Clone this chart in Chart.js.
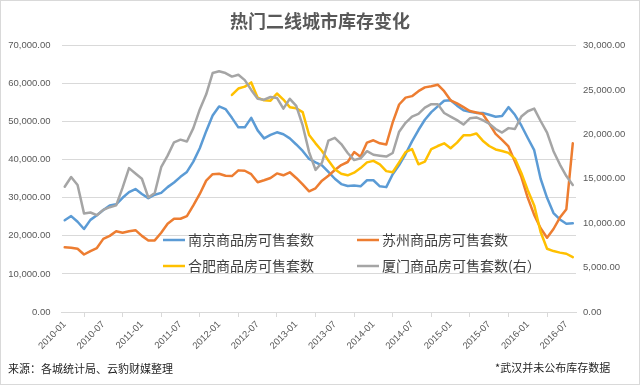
<!DOCTYPE html>
<html>
<head>
<meta charset="utf-8">
<script src="https://cdn.jsdelivr.net/npm/chart.js@4"></script>
<style>
  body { margin: 0; background: #fff; }
  #wrap { position: relative; width: 640px; height: 385px; }
  #chart { outline: 1px solid #d9d9d9; outline-offset: -1px; }
  .note { position: absolute; font: 11px "Noto Sans CJK SC", sans-serif; color: #1f1f1f; white-space: nowrap; }
</style>
</head>
<body>
<div id="wrap">
  <canvas id="chart" width="640" height="385"></canvas>
  <div class="note" style="left:8px; top:360px;">来源：各城统计局、云豹财媒整理</div>
  <div class="note" style="left:495px; top:359px;">*武汉并未公布库存数据</div>
</div>
<script>
// ---------- Data ----------
const months = [
  "2010-01","2010-02","2010-03","2010-04","2010-05","2010-06","2010-07","2010-08","2010-09","2010-10","2010-11","2010-12",
  "2011-01","2011-02","2011-03","2011-04","2011-05","2011-06","2011-07","2011-08","2011-09","2011-10","2011-11","2011-12",
  "2012-01","2012-02","2012-03","2012-04","2012-05","2012-06","2012-07","2012-08","2012-09","2012-10","2012-11","2012-12",
  "2013-01","2013-02","2013-03","2013-04","2013-05","2013-06","2013-07","2013-08","2013-09","2013-10","2013-11","2013-12",
  "2014-01","2014-02","2014-03","2014-04","2014-05","2014-06","2014-07","2014-08","2014-09","2014-10","2014-11","2014-12",
  "2015-01","2015-02","2015-03","2015-04","2015-05","2015-06","2015-07","2015-08","2015-09","2015-10","2015-11","2015-12",
  "2016-01","2016-02","2016-03","2016-04","2016-05","2016-06","2016-07","2016-08"
];

// 南京 (left axis)
const nanjing = [
  24100, 25200, 23700, 21800, 24200, 25400, 26800, 28000, 28300, 30000,
  31500, 32300, 31000, 29900, 30800, 31300, 32800, 34000, 35500, 36800,
  39500, 43000, 47500, 51600, 54000, 53300, 51000, 48500, 48500, 51000,
  47700, 45600, 46500, 47200, 46700, 45600, 44000, 42300, 40200, 39300,
  38500, 36800, 35000, 33600, 33100, 33200, 33000, 34600, 34600, 33000,
  32800, 36200, 38600, 41500, 44800, 47800, 50500, 52500, 54000, 55500,
  55600, 54200, 53000, 52600, 52300, 52300, 51800, 51300, 51500, 53800,
  51800, 49000, 45700, 42500, 35000, 30000, 26000, 24300, 23200, 23300
];

// 苏州 (left axis)
const suzhou = [
  17000, 16900, 16600, 15100, 16000, 16800, 19200, 20000, 21200, 20800,
  21200, 21500, 20000, 18800, 18800, 20800, 23200, 24500, 24500, 25200,
  28000, 31000, 34500, 36200, 36300, 35800, 35700, 37200, 37100, 36200,
  34100, 34600, 35200, 36400, 35900, 36700, 35200, 33500, 31700, 32500,
  34500, 35800, 37300, 38600, 39400, 42000, 40800, 44500, 45100, 44300,
  44000, 49800, 54500, 56300, 56700, 58000, 59000, 59300, 59700, 58000,
  55600, 54800, 53800, 52800, 52400, 52000, 49500, 46800, 45200, 43500,
  39500, 35500, 30000, 25500, 22000, 19500, 21800, 24800, 27000, 44300
];

// 合肥 (left axis), no data before 2012-03
const hefei = [
  null, null, null, null, null, null, null, null, null, null,
  null, null, null, null, null, null, null, null, null, null,
  null, null, null, null, null, null, 57000, 58700, 59200, 60300,
  56300, 55600, 55500, 57400, 55800, 53800, 53500, 52500, 46500, 44300,
  42300, 39800, 37500, 36300, 35900, 36600, 37800, 39300, 39700, 38800,
  37000, 36700, 39300, 42000, 42800, 38800, 39500, 42800, 43600, 44300,
  43000, 44500, 46400, 46400, 46900, 45000, 43600, 42700, 42300, 41800,
  40300, 36500, 32000, 28000, 21000, 16600, 16000, 15600, 15300, 14400
];

// 厦门 (right axis)
const xiamen = [
  14100, 15200, 14300, 11100, 11200, 10900, 11500, 11800, 12000, 14000,
  16200, 15600, 15000, 12900, 13400, 16300, 17600, 19100, 19400, 19200,
  20700, 22800, 24500, 26900, 27100, 26900, 26500, 26700, 26100, 25000,
  24000, 23900, 24200, 24100, 22900, 24000, 23200, 21000, 18000, 16000,
  16800, 19300, 19600, 18900, 17900, 17100, 17300, 18100, 17700, 17600,
  17500, 17900, 20300, 21300, 22000, 22300, 23000, 23400, 23400, 22400,
  22000, 21600, 21100, 21800, 21900, 21600, 21200, 20600, 20200, 20700,
  20600, 22000, 22600, 22900, 21500, 20200, 18100, 16600, 15300, 14300
];

const seriesNames = ["南京商品房可售套数", "苏州商品房可售套数", "合肥商品房可售套数", "厦门商品房可售套数(右）"];
const colors = ["#5B9BD5", "#ED7D31", "#FFC000", "#A5A5A5"];

// ---------- Helpers ----------
const numFont = "'Liberation Sans', Arial, sans-serif";
const cjkFont = "'Noto Sans CJK SC', sans-serif";
const fmt = v => v.toLocaleString("en-US", { minimumFractionDigits: 2, maximumFractionDigits: 2 });

function line(i, data, axis, order) {
  return {
    label: seriesNames[i],
    data: data,
    yAxisID: axis,
    borderColor: colors[i],
    backgroundColor: colors[i],
    borderWidth: 2.5,
    pointRadius: 0,
    tension: 0,
    borderJoinStyle: "round",
    borderCapStyle: "round",
    order: order
  };
}

// legend drawn inside the plot, two columns like the original
const insideLegend = {
  id: "insideLegend",
  afterDatasetsDraw(chart) {
    const ctx = chart.ctx;
    const spots = [[163, 240], [357, 240], [163, 266], [357, 266]];
    chart.data.datasets.forEach((ds, i) => {
      const [x, y] = spots[i];
      ctx.save();
      ctx.strokeStyle = ds.borderColor;
      ctx.lineWidth = 2.5;
      ctx.beginPath();
      ctx.moveTo(x, y);
      ctx.lineTo(x + 22, y);
      ctx.stroke();
      ctx.fillStyle = "#404040";
      ctx.font = "14px " + cjkFont;
      ctx.textBaseline = "middle";
      ctx.fillText(ds.label, x + 25, y);
      ctx.restore();
    });
  }
};

// ---------- Chart ----------
new Chart(document.getElementById("chart").getContext("2d"), {
  type: "line",
  data: {
    labels: months,
    datasets: [
      line(0, nanjing, "yL", 3),
      line(1, suzhou, "yL", 2),
      line(2, hefei, "yL", 1),
      line(3, xiamen, "yR", 0)
    ]
  },
  options: {
    responsive: false,
    animation: false,
    layout: { padding: 0 },
    plugins: {
      legend: { display: false },
      tooltip: { enabled: false },
      title: {
        display: true,
        text: "热门二线城市库存变化",
        color: "#595959",
        font: { size: 18, family: cjkFont, weight: "bold" },
        padding: { top: 10, bottom: 13.9 }
      }
    },
    scales: {
      x: {
        offset: true,
        grid: { offset: true, drawOnChartArea: false, tickLength: 5, color: "#d9d9d9" },
        border: { color: "#d9d9d9" },
        ticks: {
          autoSkip: false,
          minRotation: 45,
          maxRotation: 45,
          padding: 2,
          color: "#595959",
          font: { size: 9.5, family: numFont },
          callback: (v, i) => (i % 6 === 0 ? months[i] : null)
        },
        afterFit: s => { s.height = 73; }
      },
      yL: {
        position: "left",
        min: 0,
        max: 70000,
        grid: { color: "#d9d9d9", drawTicks: false },
        border: { display: false },
        ticks: {
          stepSize: 10000,
          padding: 11,
          color: "#595959",
          font: { size: 9.5, family: numFont },
          callback: v => fmt(v)
        },
        afterFit: s => { s.width = 61.5; }
      },
      yR: {
        position: "right",
        min: 0,
        max: 30000,
        grid: { drawOnChartArea: false, drawTicks: false },
        border: { display: false },
        ticks: {
          stepSize: 5000,
          padding: 7,
          color: "#595959",
          font: { size: 9.5, family: numFont },
          callback: v => fmt(v)
        },
        afterFit: s => { s.width = 64; }
      }
    }
  },
  plugins: [insideLegend]
});
</script>
</body>
</html>
